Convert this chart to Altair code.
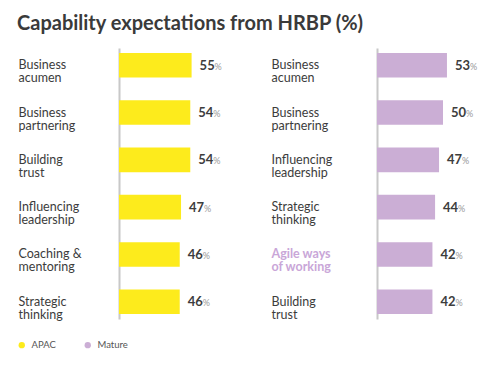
import altair as alt
import pandas as pd

apac_labels = ["Business|acumen", "Business|partnering", "Building|trust",
               "Influencing|leadership", "Coaching &|mentoring", "Strategic|thinking"]
apac_values = [55, 54, 54, 47, 46, 46]

mature_labels = ["Business|acumen", "Business|partnering", "Influencing|leadership",
                 "Strategic|thinking", "Agile ways|of working", "Building|trust"]
mature_values = [53, 50, 47, 44, 42, 42]

series = ["APAC", "Mature"]
colors = ["#FDEB1C", "#CBAED5"]
highlight = "Agile ways|of working"

FONT = "Lato"
PX_PER_UNIT = 1.32


def panel(labels, values, name, width, label_pad):
    df = pd.DataFrame({"skill": labels, "value": values, "series": name})
    base = alt.Chart(df).encode(
        y=alt.Y(
            "skill:N", sort=labels,
            scale=alt.Scale(paddingInner=0.48, paddingOuter=0.105),
            axis=alt.Axis(
                title=None, ticks=False, grid=False,
                labelExpr="split(datum.value, '|')",
                labelAlign="left", labelBaseline="middle",
                labelPadding=label_pad, labelFontSize=12.5, labelLineHeight=13,
                labelFont=FONT,
                labelColor={"condition": {"test": f"datum.value == '{highlight}'",
                                          "value": "#C9A6D8"},
                            "value": "#3c3c3c"},
                labelFontWeight={"condition": {"test": f"datum.value == '{highlight}'",
                                               "value": "bold"},
                                 "value": "normal"},
                domainColor="#c8c8c8", domainWidth=2,
            ),
        )
    )
    xenc = alt.X("value:Q", scale=alt.Scale(domain=[0, width / PX_PER_UNIT]), axis=None)
    bars = base.mark_bar().encode(
        x=xenc,
        color=alt.Color(
            "series:N",
            scale=alt.Scale(domain=series, range=colors),
            legend=alt.Legend(
                title=None, orient="none", legendX=-102, legendY=292,
                direction="horizontal", symbolType="circle", symbolSize=40,
                symbolStrokeWidth=0, labelFontSize=9.5, labelFont=FONT,
                labelColor="#555555", labelOffset=5, columnPadding=27,
            ),
        ),
    )
    num = base.mark_text(
        align="left", baseline="alphabetic", dx=8, dy=4.5,
        fontSize=13, fontWeight="bold", font=FONT, color="#3d3d3d",
    ).encode(x=xenc, text=alt.Text("value:Q"))
    pct = base.mark_text(
        align="left", baseline="alphabetic", dx=23, dy=4.5,
        fontSize=9, font=FONT, color="#9a9a9a",
    ).encode(x=xenc, text=alt.value("%"))
    return alt.layer(bars, num, pct).properties(width=width, height=271)


left = panel(apac_labels, apac_values, "APAC", 110, 101)
right = panel(mature_labels, mature_values, "Mature", 100, 106)

chart = (
    alt.hconcat(left, right, spacing=42)
    .properties(
        title=alt.TitleParams(
            "Capability expectations from HRBP (%)", anchor="start",
            fontSize=20, font=FONT, fontWeight="bold", color="#3a3a3a", offset=14,
        ),
        padding={"left": 9, "top": 6, "right": 5, "bottom": 5},
        background="white",
    )
    .configure_view(stroke="transparent", strokeWidth=0)
    .configure_axis(grid=False)
)

chart.save("out.html", embed_options={"renderer": "svg", "actions": False})
